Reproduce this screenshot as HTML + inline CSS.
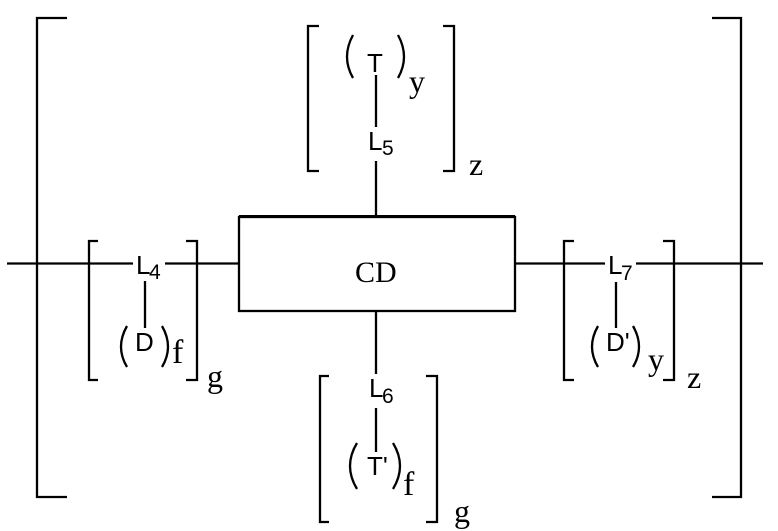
<!DOCTYPE html>
<html>
<head>
<meta charset="utf-8">
<style>
html,body{margin:0;padding:0;background:#fff;}
svg{display:block;}
.s{font-family:"Liberation Sans",sans-serif;font-size:26px;fill:#000;}
.b{font-family:"Liberation Sans",sans-serif;font-size:21px;fill:#000;}
.r{font-family:"Liberation Serif",serif;font-size:32px;fill:#000;}
.f{font-family:"Liberation Serif",serif;font-size:34px;fill:#000;}
.c{font-family:"Liberation Serif",serif;font-size:30px;fill:#000;}
</style>
</head>
<body>
<svg width="778" height="531" viewBox="0 0 778 531" xmlns="http://www.w3.org/2000/svg">
<g fill="none" stroke="#000" stroke-width="2.300">
<!-- big brackets -->
<path d="M67 18H37V497H67"/>
<path d="M712 18H741V497H712"/>
<!-- top bracket -->
<path d="M319 26H308V171H319"/>
<path d="M443 26H454V171H443"/>
<!-- left bracket -->
<path d="M98 241H89V380H98"/>
<path d="M186 241H197V380H186"/>
<!-- right bracket -->
<path d="M574 241H564V380H574"/>
<path d="M663 241H674V380H663"/>
<!-- bottom bracket -->
<path d="M329 376H320V522H329"/>
<path d="M426 376H437V522H426"/>
<!-- box -->
<rect x="239" y="217" width="276" height="94"/>
<path d="M239 216.500H515" stroke-width="3"/>
<!-- connectors -->
<path d="M7 263.500H133M165 263.500H239M515 263.500H605M636 263.500H763"/>
<path d="M376 75V127M376 161V216M376 311V374M376 408V452"/>
<path d="M145 281V328M616 282V328"/>
<!-- parens -->
<path d="M353 35Q341 57 353 78M398 35Q410 57 398 78"/>
<path d="M127 326Q115 347 127 367M162 326Q174 347 162 367"/>
<path d="M598 326Q586 347 598 367M633 326Q645 347 633 367"/>
<path d="M357 443Q343 466 357 489M393 443Q407 466 393 489"/>
</g>
<text class="s" x="367" y="72">T</text>
<text class="s" x="368" y="150">L</text>
<text class="b" x="382" y="155">5</text>
<text class="s" x="136" y="274">L</text>
<text class="b" x="149" y="279">4</text>
<text class="s" x="608" y="274">L</text>
<text class="b" x="621" y="280">7</text>
<text class="s" x="369" y="397">L</text>
<text class="b" x="382" y="403">6</text>
<text class="s" x="135" y="351">D</text>
<text class="s" x="606" y="351">D'</text>
<text class="s" x="367" y="475">T'</text>
<text class="c" x="355" y="282">CD</text>
<text class="r" x="409" y="92">y</text>
<text class="r" x="469" y="175">z</text>
<text class="f" x="172" y="363">f</text>
<text class="r" x="207" y="387">g</text>
<text class="r" x="648" y="370">y</text>
<text class="r" x="687" y="388">z</text>
<text class="f" x="403" y="495">f</text>
<text class="r" x="454" y="522">g</text>
</svg>
</body>
</html>
